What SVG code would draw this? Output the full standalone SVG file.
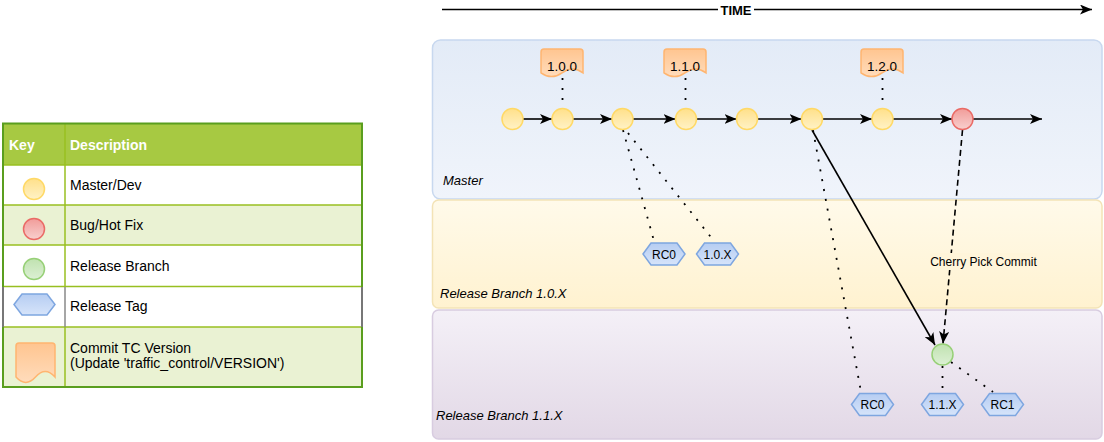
<svg xmlns="http://www.w3.org/2000/svg" width="1104" height="442" viewBox="0 0 1104 442">
<style>
  .t{font-family:"Liberation Sans",Arial,sans-serif;fill:#000}
  .leg{font-size:14px}
  .hd{font-size:14px;font-weight:bold;fill:#fff}
  .lane{font-size:13px;font-style:italic}
  .tag{font-size:12px;text-anchor:middle}
  .ver{font-size:13.5px;text-anchor:middle}
  .flow{stroke:#000;stroke-width:1.6;fill:none}
  .dot{stroke:#000;stroke-width:1.8;fill:none;stroke-dasharray:2 8}
  .yc{fill:url(#gY);stroke:#ffd966;stroke-width:1.5}
  .rc{fill:url(#gR);stroke:#ea6b66;stroke-width:1.5}
  .gc{fill:url(#gG);stroke:#97d077;stroke-width:1.5}
  .hx{fill:url(#gB);stroke:#7ea6e0;stroke-width:1.5}
  .dc{fill:url(#gO);stroke:#ffb570;stroke-width:1.5}
  .row{stroke:#98bf21;stroke-width:1.5}
</style>
<defs>
  <linearGradient id="gY" x1="0" y1="0" x2="0" y2="1"><stop offset="0" stop-color="#ffe08a"/><stop offset="1" stop-color="#fff2c6"/></linearGradient>
  <linearGradient id="gR" x1="0" y1="0" x2="0" y2="1"><stop offset="0" stop-color="#f19c99"/><stop offset="1" stop-color="#f8d0ce"/></linearGradient>
  <linearGradient id="gG" x1="0" y1="0" x2="0" y2="1"><stop offset="0" stop-color="#c0e2b0"/><stop offset="1" stop-color="#dcf0d4"/></linearGradient>
  <linearGradient id="gB" x1="0" y1="0" x2="0" y2="1"><stop offset="0" stop-color="#b6cdf2"/><stop offset="1" stop-color="#d6e4fa"/></linearGradient>
  <linearGradient id="gO" x1="0" y1="0" x2="0" y2="1"><stop offset="0" stop-color="#ffc590"/><stop offset="1" stop-color="#ffdcbc"/></linearGradient>
  <linearGradient id="gL1" x1="0" y1="0" x2="0" y2="1"><stop offset="0" stop-color="#e3ebf7"/><stop offset="1" stop-color="#f0f4fb"/></linearGradient>
  <linearGradient id="gL2" x1="0" y1="0" x2="0" y2="1"><stop offset="0" stop-color="#fffaea"/><stop offset="1" stop-color="#fff2d0"/></linearGradient>
  <linearGradient id="gL3" x1="0" y1="0" x2="0" y2="1"><stop offset="0" stop-color="#f4f0f7"/><stop offset="1" stop-color="#e2d8e6"/></linearGradient>
  <marker id="arr" markerWidth="12" markerHeight="10" refX="12" refY="5" orient="auto" markerUnits="userSpaceOnUse"><path d="M0,0 L12,5 L0,10 L3,5 z" fill="#000" stroke="none"/></marker>
  <path id="doc" d="M0,3 Q0,0 3,0 H39 Q42,0 42,3 V23.8 Q31.5,16.2 21,23.8 Q10.5,31.4 0,23.8 Z"/>
  <path id="hex" d="M-21,0 L-13,-11 L13,-11 L21,0 L13,11 L-13,11 Z"/>
</defs>

<!-- Legend -->
<g id="legend">
  <rect x="3" y="123.5" width="359" height="263" fill="#fff"/>
  <rect x="3" y="123.5" width="359" height="41.5" fill="#a7c942"/>
  <rect x="3" y="205" width="359" height="40" fill="#eaf2d3"/>
  <rect x="3" y="327" width="359" height="60" fill="#eaf2d3"/>
  <line class="row" x1="3" y1="165" x2="362" y2="165"/>
  <line class="row" x1="3" y1="205" x2="362" y2="205"/>
  <line class="row" x1="3" y1="245" x2="362" y2="245"/>
  <line class="row" x1="3" y1="286.5" x2="362" y2="286.5"/>
  <line class="row" x1="3" y1="327" x2="362" y2="327"/>
  <line class="row" x1="65" y1="123.5" x2="65" y2="287"/>
  <line class="row" x1="65" y1="327" x2="65" y2="387"/>
  <line x1="65" y1="287" x2="65" y2="327" stroke="#888" stroke-width="1.5"/>
  <line x1="3" y1="287" x2="3" y2="327" stroke="#777" stroke-width="2"/>
  <line x1="362" y1="287" x2="362" y2="327" stroke="#777" stroke-width="2"/>
  <path d="M3,287 V123.5 H362 V287 M362,327 V387 H3 V327" fill="none" stroke="#5a9e1e" stroke-width="2"/>
  <text class="t hd" x="9" y="150">Key</text>
  <text class="t hd" x="70" y="150">Description</text>
  <circle class="yc" cx="34" cy="189" r="10.5"/>
  <text class="t leg" x="70" y="190">Master/Dev</text>
  <circle class="rc" cx="34" cy="229" r="10.5"/>
  <text class="t leg" x="70" y="230">Bug/Hot Fix</text>
  <circle class="gc" cx="34" cy="269" r="10.5"/>
  <text class="t leg" x="70" y="271">Release Branch</text>
  <path class="hx" d="M14,304.5 L22,294 L47,294 L55,304.5 L47,315 L22,315 Z"/>
  <text class="t leg" x="70" y="311">Release Tag</text>
  <path class="dc" transform="translate(16,343)" d="M0,3 Q0,0 3,0 H36 Q39,0 39,3 V34 Q29.25,23.2 19.5,34 Q9.75,44.8 0,34 Z"/>
  <text class="t leg" x="70" y="353">Commit TC Version</text>
  <text class="t leg" x="70" y="368">(Update 'traffic_control/VERSION')</text>
</g>

<!-- Time axis -->
<g id="time">
  <line class="flow" x1="442" y1="9.5" x2="1092" y2="9.5" marker-end="url(#arr)"/>
  <rect x="718" y="2" width="36" height="15" fill="#fff"/>
  <text class="t" x="736" y="14.5" font-size="13" font-weight="bold" text-anchor="middle">TIME</text>
</g>

<!-- Lanes -->
<g id="lane-master">
  <rect x="432.5" y="40" width="669.5" height="159" rx="8" fill="url(#gL1)" stroke="#c8d8ef" stroke-width="1.5"/>
  <text class="t lane" x="443" y="185">Master</text>
</g>
<g id="lane-rb10">
  <rect x="432.5" y="200" width="669.5" height="108" rx="6" fill="url(#gL2)" stroke="#f3e3b6" stroke-width="1.5"/>
  <text class="t lane" x="440" y="298">Release Branch 1.0.X</text>
</g>
<g id="lane-rb11">
  <rect x="432.5" y="310" width="669.5" height="129" rx="6" fill="url(#gL3)" stroke="#d8cce0" stroke-width="1.5"/>
  <text class="t lane" x="436" y="420">Release Branch 1.1.X</text>
</g>

<!-- Connectors -->
<g id="connectors">
  <line class="flow" x1="523" y1="119" x2="552" y2="119" marker-end="url(#arr)"/>
  <line class="flow" x1="573" y1="119" x2="612" y2="119" marker-end="url(#arr)"/>
  <line class="flow" x1="633" y1="119" x2="675.5" y2="119" marker-end="url(#arr)"/>
  <line class="flow" x1="696.5" y1="119" x2="736.5" y2="119" marker-end="url(#arr)"/>
  <line class="flow" x1="757.5" y1="119" x2="801.5" y2="119" marker-end="url(#arr)"/>
  <line class="flow" x1="822.5" y1="119" x2="872" y2="119" marker-end="url(#arr)"/>
  <line class="flow" x1="893" y1="119" x2="952" y2="119" marker-end="url(#arr)"/>
  <line class="flow" x1="973" y1="119" x2="1042" y2="119" marker-end="url(#arr)"/>

  <line class="dot" x1="562.5" y1="78" x2="562.5" y2="108"/>
  <line class="dot" x1="685.5" y1="78" x2="685.5" y2="108"/>
  <line class="dot" x1="882.5" y1="78" x2="882.5" y2="108"/>
  <line class="dot" x1="623" y1="130" x2="654" y2="241"/>
  <line class="dot" x1="628" y1="133" x2="714" y2="241"/>
  <line class="dot" x1="813" y1="130" x2="861" y2="392"/>
  <line class="dot" x1="942.5" y1="366" x2="942.5" y2="393"/>
  <line class="dot" x1="951" y1="362" x2="993" y2="392"/>

  <line class="flow" stroke-width="2" x1="812" y1="130" x2="935" y2="345" marker-end="url(#arr)"/>
  <line class="flow" stroke-width="2" stroke-dasharray="6 4" x1="962.5" y1="130" x2="943" y2="343.5" marker-end="url(#arr)"/>
  <rect x="930" y="253" width="107" height="17" fill="#fff5da"/>
  <text class="t" x="983.5" y="266" font-size="12" text-anchor="middle">Cherry Pick Commit</text>
</g>

<!-- Master commits -->
<g id="m1"><circle class="yc" cx="512.5" cy="119" r="10.5"/></g>
<g id="m2"><circle class="yc" cx="562.5" cy="119" r="10.5"/></g>
<g id="m3"><circle class="yc" cx="622.5" cy="119" r="10.5"/></g>
<g id="m4"><circle class="yc" cx="686" cy="119" r="10.5"/></g>
<g id="m5"><circle class="yc" cx="747" cy="119" r="10.5"/></g>
<g id="m6"><circle class="yc" cx="812" cy="119" r="10.5"/></g>
<g id="m7"><circle class="yc" cx="882.5" cy="119" r="10.5"/></g>
<g id="fix"><circle class="rc" cx="962.5" cy="119" r="10.5"/></g>
<g id="rb11-commit"><circle class="gc" cx="942.5" cy="354.5" r="10.5"/></g>

<!-- Version commits -->
<g id="v100"><use href="#doc" class="dc" transform="translate(541,49)"/><text class="t ver" x="562" y="71">1.0.0</text></g>
<g id="v110"><use href="#doc" class="dc" transform="translate(664,49)"/><text class="t ver" x="685" y="71">1.1.0</text></g>
<g id="v120"><use href="#doc" class="dc" transform="translate(861,49)"/><text class="t ver" x="882" y="71">1.2.0</text></g>

<!-- Tags -->
<g id="tag-rc0-10"><use href="#hex" class="hx" transform="translate(664,254)"/><text class="t tag" x="664" y="258.5">RC0</text></g>
<g id="tag-10x"><use href="#hex" class="hx" transform="translate(717.5,254)"/><text class="t tag" x="717.5" y="258.5">1.0.X</text></g>
<g id="tag-rc0-11"><use href="#hex" class="hx" transform="translate(872.5,404.5)"/><text class="t tag" x="872.5" y="409">RC0</text></g>
<g id="tag-11x"><use href="#hex" class="hx" transform="translate(942.5,404.5)"/><text class="t tag" x="942.5" y="409">1.1.X</text></g>
<g id="tag-rc1"><use href="#hex" class="hx" transform="translate(1002.5,404.5)"/><text class="t tag" x="1002.5" y="409">RC1</text></g>
</svg>
